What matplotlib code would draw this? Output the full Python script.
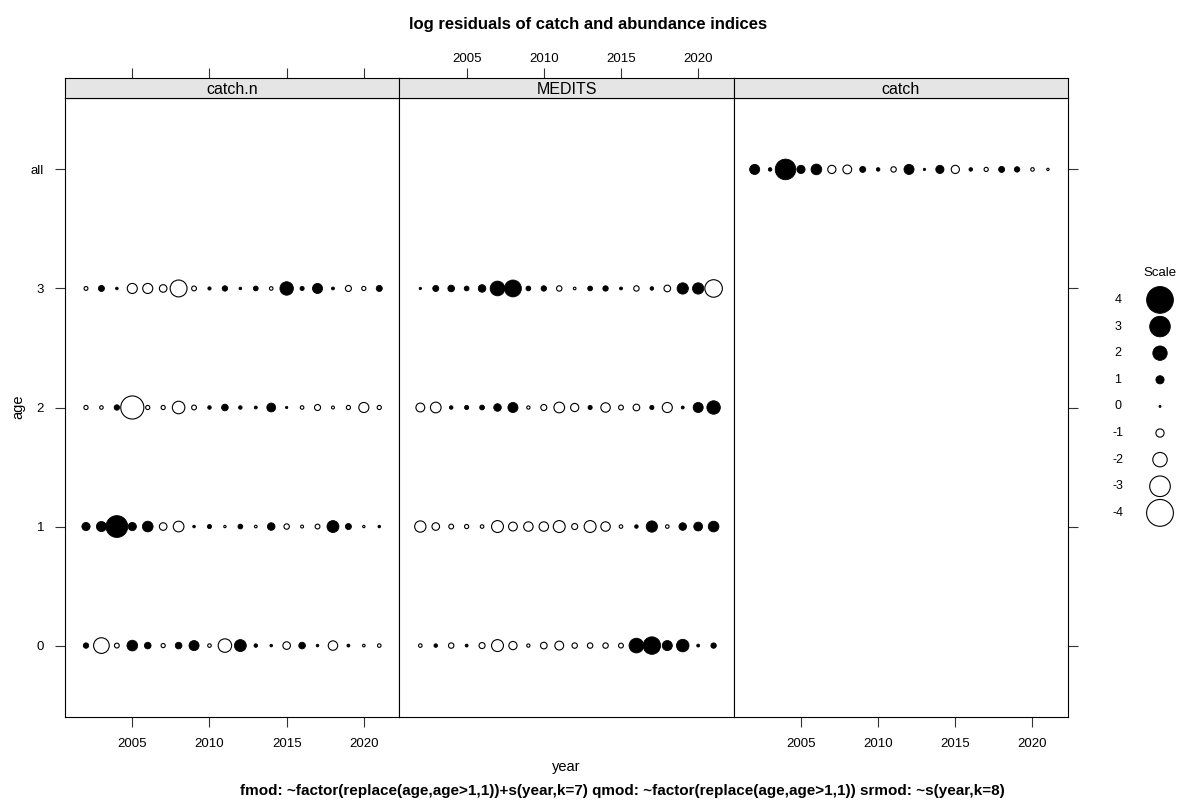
import numpy as np
import matplotlib
matplotlib.use('Agg')
import matplotlib.pyplot as plt

plt.rcParams['font.family'] = ['Liberation Sans', 'DejaVu Sans']

# data
years = np.arange(2002, 2022)
age_labels = ['0', '1', '2', '3', 'all']
panels = ['catch.n', 'MEDITS', 'catch']

catchn_age0 = [0.55, -2.2, -0.45, 1.4, 0.75, -0.35, 0.75, 1.3, -0.25, -1.85,
               1.6, 0.25, 0.1, -0.9, 0.75, 0.1, -1.2, 0.15, -0.1, -0.25]
catchn_age1 = [1.0, 1.3, 3.2, 1.0, 1.4, -0.9, -1.4, 0.1, 0.35, -0.05,
               0.45, -0.1, 0.9, -0.55, -0.15, -0.45, 1.6, 0.65, -0.05, 0.1]
catchn_age2 = [-0.35, -0.25, 0.55, -3.4, -0.35, -0.35, -1.7, -0.45, 0.25, 0.75,
               0.25, 0.15, 1.1, 0.05, -0.25, -0.65, -0.15, -0.35, -1.3, -0.35]
catchn_age3 = [-0.3, 0.65, 0.1, -1.3, -1.3, -0.9, -2.4, -0.45, 0.2, 0.55,
               0.1, 0.45, -0.25, 1.85, 0.35, 1.3, 0.15, -0.65, -0.35, 0.65]

medits_age0 = [-0.25, 0.25, -0.55, 0.15, -0.65, -1.6, -1.0, -0.2, -0.75, -1.1,
               -0.55, -0.55, -0.55, -0.45, 2.05, 2.5, 1.3, 1.7, 0.15, 0.55]
medits_age1 = [-1.5, -0.9, -0.45, -0.35, -0.25, -1.6, -1.1, -1.2, -1.2, -1.6,
               -0.65, -1.6, -1.2, -0.25, 0.25, 1.5, -0.25, 0.9, 1.1, 1.4]
medits_age2 = [-1.1, -1.4, 0.25, 0.35, 0.45, 0.9, 1.3, -0.2, -0.65, -1.4,
               -1.0, 0.35, -1.2, -0.45, -0.75, 0.35, -1.3, 0.15, 1.3, 1.85]
medits_age3 = [0.05, 0.65, 0.75, 0.45, 0.9, 2.05, 2.4, 0.45, 0.55, -0.55,
               -0.1, 0.45, 0.55, 0.15, -0.55, 0.25, -0.75, 1.5, 1.5, -2.5]

catch_all = [1.3, 0.25, 3.0, 1.0, 1.4, -1.0, -1.1, 0.65, 0.25, -0.55,
             1.3, 0.05, 1.0, -1.0, 0.25, -0.35, 0.65, 0.55, -0.25, -0.05]

scale_vals = [4, 3, 2, 1, 0, -1, -2, -3, -4]

panel_data = {
    'catch.n': {0: catchn_age0, 1: catchn_age1, 2: catchn_age2, 3: catchn_age3},
    'MEDITS': {0: medits_age0, 1: medits_age1, 2: medits_age2, 3: medits_age3},
    'catch': {4: catch_all},
}

W, H = 1177, 807
fig = plt.figure(figsize=(W / 100, H / 100), dpi=100)


def bubble_size(v):
    # diameter in px grows linearly with |resid|
    d_px = 2 + 6.2 * np.abs(np.asarray(v))
    return (d_px * 0.72) ** 2


def draw_bubbles(ax, x, y, v):
    v = np.asarray(v)
    pos = v >= 0
    ax.scatter(np.asarray(x)[pos], np.asarray(y)[pos], s=bubble_size(v[pos]),
               facecolor='black', edgecolor='black', linewidth=0.6, zorder=3)
    ax.scatter(np.asarray(x)[~pos], np.asarray(y)[~pos], s=bubble_size(v[~pos]),
               facecolor='white', edgecolor='black', linewidth=0.8, zorder=3)


left, right = 65, 1068
top_strip, top_panel, bottom = 78, 98, 717
pw = (right - left) / 3

for i, name in enumerate(panels):
    x0 = left + i * pw
    ax = fig.add_axes([x0 / W, (H - bottom) / H, pw / W, (bottom - top_panel) / H])
    for age, vals in panel_data[name].items():
        draw_bubbles(ax, years, np.full(len(years), age), vals)
    ax.set_xlim(2000.64, 2022.3)
    ax.set_ylim(-0.6, 4.6)
    ax.set_xticks([2005, 2010, 2015, 2020])
    ax.set_yticks(range(5))
    ax.set_yticklabels(age_labels)
    ax.tick_params(direction='out', length=7, width=0.8, labelsize=9.5, color='#333333')
    if i == 1:
        ax.tick_params(axis='x', bottom=False, labelbottom=False)
    else:
        ax.tick_params(axis='x', bottom=True, labelbottom=True, top=False, pad=8)
    if i == 0:
        ax.tick_params(axis='y', left=True, labelleft=True, right=False, pad=8)
    elif i == 2:
        ax.tick_params(axis='y', left=False, labelleft=False, right=True, labelright=False)
    else:
        ax.tick_params(axis='y', left=False, labelleft=False)
    for sp in ax.spines.values():
        sp.set_linewidth(0.8)

    # strip
    sax = fig.add_axes([x0 / W, (H - top_panel) / H, pw / W, (top_panel - top_strip) / H])
    sax.set_facecolor('#e5e5e5')
    sax.set_xlim(2000.64, 2022.3)
    sax.set_yticks([])
    sax.text(0.5, 0.45, name, transform=sax.transAxes, ha='center', va='center', fontsize=11.5)
    for sp in sax.spines.values():
        sp.set_linewidth(0.8)
    if i == 1:
        sax.xaxis.set_ticks_position('top')
        sax.set_xticks([2005, 2010, 2015, 2020])
        sax.tick_params(axis='x', direction='out', length=7, width=0.8, labelsize=9.5,
                        color='#333333', pad=2)
    elif i == 0:
        sax.xaxis.set_ticks_position('top')
        sax.set_xticks([2005, 2010, 2015, 2020])
        sax.set_xticklabels([])
        sax.tick_params(axis='x', direction='out', length=7, width=0.8, color='#333333')
    else:
        sax.set_xticks([])

# legend
lax = fig.add_axes([1100 / W, (H - 527) / H, 77 / W, 267 / H])
lax.set_xlim(1100, 1177)
lax.set_ylim(8.53, -1.5)
lax.axis('off')
rows = np.arange(len(scale_vals))
draw_bubbles(lax, np.full(len(rows), 1160), rows, scale_vals)
for r, v in zip(rows, scale_vals):
    lax.text(1118, r, str(v), ha='center', va='center', fontsize=9)
lax.text(1160, -1.0, 'Scale', ha='center', va='center', fontsize=9.5)

# labels
fig.text(588 / W, 1 - 24 / H, 'log residuals of catch and abundance indices',
         ha='center', va='center', fontsize=12, fontweight='bold')
fig.text(566 / W, 1 - 767 / H, 'year', ha='center', va='center', fontsize=10.5)
fig.text(18 / W, 1 - 407 / H, 'age', ha='center', va='center', fontsize=10.5, rotation=90)
fig.text(622 / W, 1 - 791 / H,
         'fmod: ~factor(replace(age,age>1,1))+s(year,k=7) qmod: ~factor(replace(age,age>1,1)) srmod: ~s(year,k=8)',
         ha='center', va='center', fontsize=11, fontweight='bold')

fig.savefig('out.png', dpi=100, facecolor='white')
